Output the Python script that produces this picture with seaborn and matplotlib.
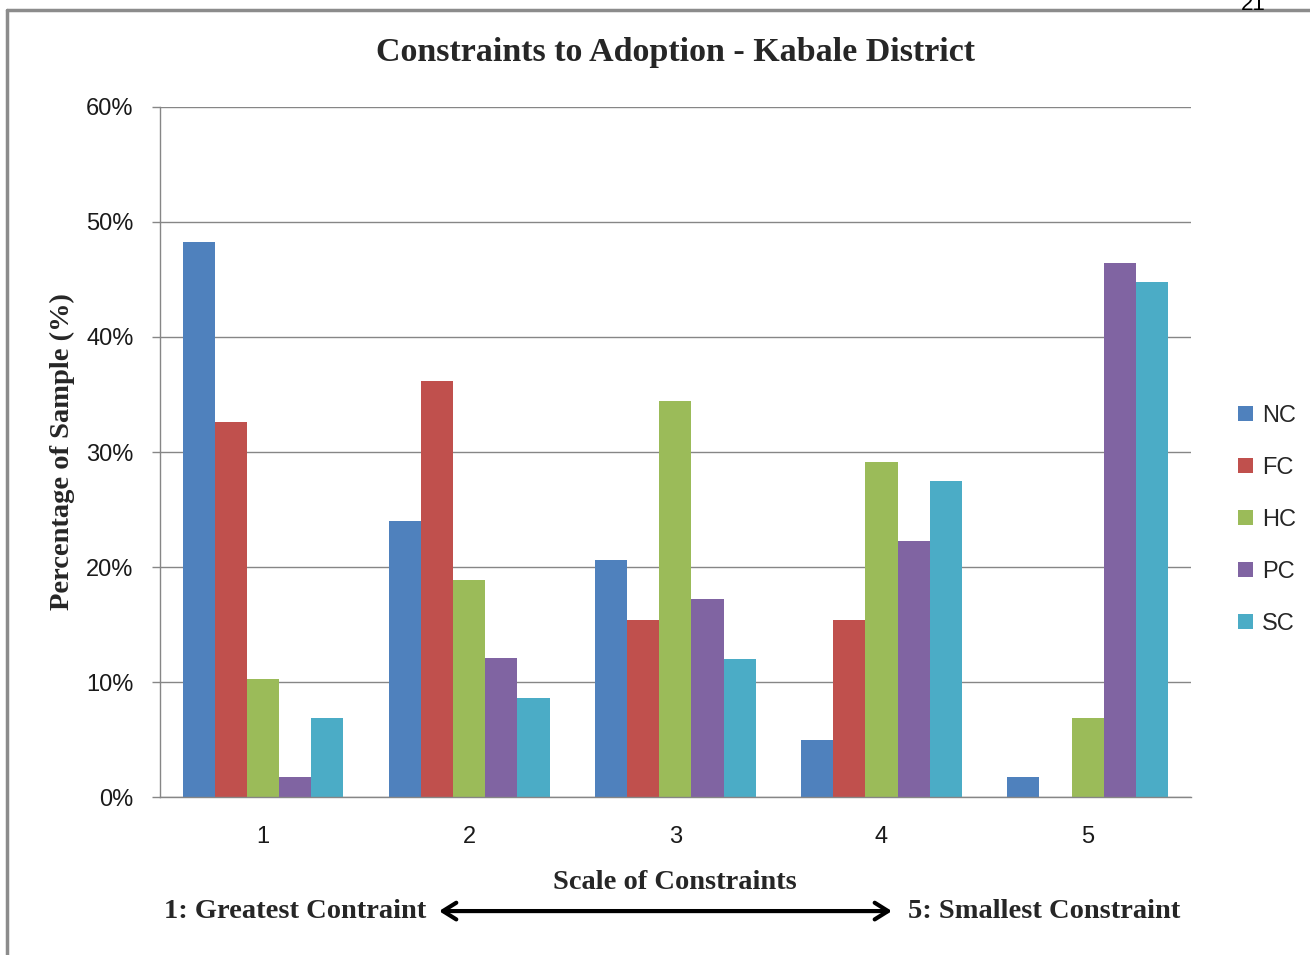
import pandas as pd
import numpy as np
import seaborn as sns
import matplotlib.pyplot as plt
from matplotlib.ticker import PercentFormatter, MultipleLocator

# data (percent of sample)
scale = ['1', '2', '3', '4', '5']
constraints = ['NC', 'FC', 'HC', 'PC', 'SC']
nc = [48.3, 24.0, 20.6, 5.0, 1.7]
fc = [32.6, 36.2, 15.4, 15.4, 0.0]
hc = [10.3, 18.9, 34.4, 29.1, 6.9]
pc = [1.7, 12.1, 17.2, 22.3, 46.4]
sc = [6.9, 8.6, 12.0, 27.5, 44.8]
colors = ['#4F81BD', '#C0504D', '#9BBB59', '#8064A2', '#4BACC6']

df = pd.DataFrame({'scale': scale * 5,
                   'constraint': np.repeat(constraints, 5),
                   'pct': nc + fc + hc + pc + sc})

sns.set_theme(style='white')
plt.rcParams['font.family'] = ['Liberation Sans', 'DejaVu Sans']
serif = ['Liberation Serif', 'DejaVu Serif']

fig = plt.figure(figsize=(13.1, 9.55), dpi=100)
ax = fig.add_axes([0.1221, 0.1654, 0.909 - 0.1221, 0.888 - 0.1654])

sns.barplot(data=df, x='scale', y='pct', hue='constraint', hue_order=constraints,
            palette=colors, width=0.78, gap=0, saturation=1, linewidth=0,
            ax=ax, legend=True)

ax.set_ylim(0, 60)
ax.yaxis.set_major_locator(MultipleLocator(10))
ax.yaxis.set_major_formatter(PercentFormatter(decimals=0))
ax.yaxis.grid(True, color='#868686', lw=1)
ax.set_axisbelow(True)
for s in ['top', 'right']:
    ax.spines[s].set_visible(False)
for s in ['left', 'bottom']:
    ax.spines[s].set_color('#868686')
    ax.spines[s].set_linewidth(1)
ax.tick_params(axis='y', which='major', left=True, length=6, width=1, color='#868686',
               labelsize=17, pad=13, labelcolor='#1a1a1a')
ax.tick_params(axis='x', bottom=False, labelsize=17, pad=15, labelcolor='#1a1a1a')

ax.set_xlabel('Scale of Constraints', family=serif, weight='bold', fontsize=20.5, labelpad=16)
ax.set_ylabel('Percentage of Sample (%)', family=serif, weight='bold', fontsize=20.5, labelpad=8)
ax.set_title('Constraints to Adoption - Kabale District', family=serif, weight='bold',
             fontsize=24.5, pad=33)

leg = ax.legend(loc='center left', bbox_to_anchor=(1.037, 0.402), frameon=False,
                borderaxespad=0, fontsize=17, handlelength=0.6, handleheight=0.6,
                handletextpad=0.4, labelspacing=1.27)

# bottom annotation with double arrow
fig.text(0.125, 0.046, '1: Greatest Contraint', family=serif, weight='bold', fontsize=20.5,
         ha='left', va='center')
fig.text(0.901, 0.046, '5: Smallest Constraint', family=serif, weight='bold', fontsize=20.5,
         ha='right', va='center')
ax.annotate('', xy=(0.683, 0.046), xytext=(0.333, 0.046), xycoords='figure fraction',
            textcoords='figure fraction',
            arrowprops=dict(arrowstyle='<->,head_length=0.8,head_width=0.5', lw=3, color='black'))

# page frame and page number (cut by the page edge, as in the scan)
fig.add_artist(plt.Line2D([0.0055, 0.0055], [0, 0.9895], transform=fig.transFigure,
                          color='#8c8c8c', lw=2.5))
fig.add_artist(plt.Line2D([0.0055, 1], [0.9895, 0.9895], transform=fig.transFigure,
                          color='#8c8c8c', lw=2.5))
fig.text(0.957, 0.995, '21', fontsize=16, ha='center', va='center', color='black')

fig.savefig('out.png', dpi=100)
